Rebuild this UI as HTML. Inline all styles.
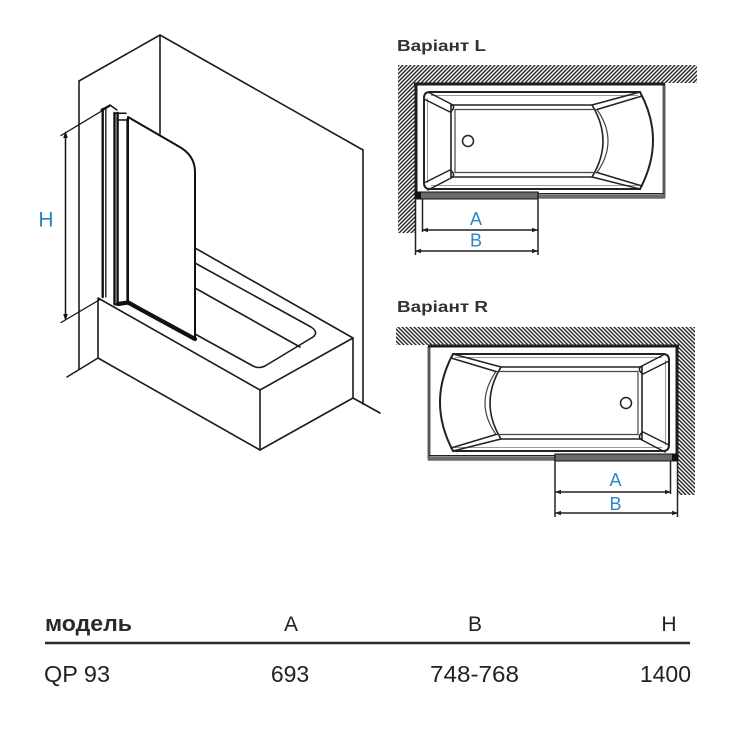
<!DOCTYPE html>
<html>
<head>
<meta charset="utf-8">
<style>
  html,body{margin:0;padding:0;background:#fff;}
  svg{display:block;}
  text{font-family:"Liberation Sans", Arial, sans-serif;}
</style>
</head>
<body>
<svg width="750" height="750" viewBox="0 0 750 750" xmlns="http://www.w3.org/2000/svg">
  <defs>
    <pattern id="hatch" patternUnits="userSpaceOnUse" width="4" height="4">
      <path d="M-1,1 L1,-1 M0,4 L4,0 M3,5 L5,3" stroke="#2a2a2a" stroke-width="1.45"/>
    </pattern>
  </defs>
  <rect x="0" y="0" width="750" height="750" fill="#fff"/>

  <!-- ===== 3D drawing ===== -->
  <g fill="none" stroke="#1c1c1c" stroke-width="1.6" stroke-linecap="round" stroke-linejoin="round">
    <path d="M79,81 L160,35 L363,150"/>
    <path d="M160,35 L160,134"/>
    <path d="M79,81 L79,369"/>
    <path d="M363,150 L363,404"/>
    <path d="M67,377 L98,358"/>
    <path d="M353,398 L380,413"/>
    <path d="M98,298 L260,390 L260,450 L98,358 Z"/>
    <path d="M260,390 L353,338 L353,398 L260,450"/>
    <path d="M353,338 L195,248"/>
    <path d="M195,263 L311,327 Q319,332 313,337 L265,366 Q259,369 253,366 L195,334"/>
    <path d="M195,288 L300,347"/>
  </g>

  <path d="M128,117 L178,146 Q195,155 195,172 L195,340 L128,301 Z" fill="#fff" stroke="#111" stroke-width="2" stroke-linejoin="round"/>

  <g fill="none" stroke="#111" stroke-linecap="round">
    <path d="M102.7,109 L102.7,297" stroke-width="2.4"/>
    <path d="M105.8,108 L105.8,297" stroke-width="1.3"/>
    <path d="M101,110 L110,105 L117,110" stroke-width="1.5"/>
    <path d="M114.5,113 L114.5,304" stroke-width="2.4"/>
    <path d="M117.6,113 L117.6,304" stroke-width="2.4"/>
    <path d="M127,119 L127,302" stroke-width="1.3"/>
    <path d="M115,113.3 L126,113.3" stroke-width="1.5"/>
    <path d="M117,120 L128,120" stroke-width="1.5"/>
    <path d="M114.5,304.5 L127,303.5" stroke-width="2"/>
    <path d="M118,304 L128,302.5 L195,339" stroke-width="4.2"/>
    <path d="M65.5,135 L65.5,317" stroke-width="1.5"/>
    <path d="M61,135.5 L110,106" stroke-width="1.3"/>
    <path d="M61,322.5 L100,299.5" stroke-width="1.3"/>
  </g>
  <polygon points="65.5,131 63.2,138 67.8,138" fill="#111"/>
  <polygon points="65.5,321 63.2,314 67.8,314" fill="#111"/>
  <text x="46" y="226.5" font-size="21" fill="#2b82c4" text-anchor="middle">H</text>

  <!-- ===== Variant L ===== -->
  <text x="397" y="51" font-size="16" font-weight="bold" fill="#333" textLength="89" lengthAdjust="spacingAndGlyphs">Варіант L</text>
  <g>
    <rect x="398" y="65" width="299" height="18" fill="url(#hatch)"/>
    <rect x="398" y="83" width="17" height="150" fill="url(#hatch)"/>
    <line x1="664" y1="84" x2="664" y2="198" stroke="#5a5a5a" stroke-width="3"/>
    <line x1="415" y1="196.5" x2="665" y2="196.5" stroke="#6a6a6a" stroke-width="4.5"/>
    <line x1="538" y1="193.5" x2="664" y2="193.5" stroke="#222" stroke-width="1"/>
    <line x1="414" y1="84" x2="665" y2="84" stroke="#1e1e1e" stroke-width="3"/>
    <line x1="416" y1="83" x2="416" y2="199" stroke="#1e1e1e" stroke-width="3"/>
    <path d="M430,92 L640,92 Q666,140 640,189 L430,189 Q424,189 424,183 L424,98 Q424,92 430,92 Z" fill="none" stroke="#222" stroke-width="2"/>
    <path d="M431,95.5 L638,95.5 M431,185.5 L638,185.5 M427.5,98 L427.5,183" fill="none" stroke="#9a9a9a" stroke-width="1"/>
    <path d="M451,105 L592,105 Q614,141 592,177 L451,177 Z" fill="none" stroke="#222" stroke-width="1.6"/>
    <path d="M455,109.5 L597,109.5 Q619,141 597,172.5 L455,172.5 Z" fill="none" stroke="#444" stroke-width="1.2"/>
    <g fill="none" stroke="#222" stroke-width="1.5" stroke-linejoin="round" stroke-linecap="round">
      <path d="M428,92 L453,105 Q455,109 450,112 L424,99"/>
      <path d="M428,190 L453,177 Q455,173 450,170 L424,183"/>
      <path d="M592,105 L640,92"/>
      <path d="M597,109.5 L642,96"/>
      <path d="M592,177 L640,189"/>
      <path d="M597,172.5 L642,186"/>
    </g>
    <circle cx="468" cy="141" r="5.5" fill="none" stroke="#222" stroke-width="1.5"/>
    <rect x="415" y="192" width="123" height="7" fill="#6a6a6a" stroke="#111" stroke-width="1"/>
    <rect x="415" y="192" width="6" height="7" fill="#111"/>
    <g stroke="#222" stroke-width="1.5" fill="none">
      <line x1="415.5" y1="199" x2="415.5" y2="255"/>
      <line x1="538" y1="192" x2="538" y2="255"/>
      <line x1="422.5" y1="199" x2="422.5" y2="232"/>
      <line x1="422" y1="230" x2="538" y2="230"/>
      <line x1="415" y1="251" x2="538" y2="251"/>
    </g>
    <g fill="#222">
      <polygon points="422,230 428,227.8 428,232.2"/>
      <polygon points="538,230 532,227.8 532,232.2"/>
      <polygon points="415,251 421,248.8 421,253.2"/>
      <polygon points="538,251 532,248.8 532,253.2"/>
    </g>
  </g>
  <text x="476" y="225" font-size="18" fill="#2b86c8" text-anchor="middle">A</text>
  <text x="476" y="246.5" font-size="18" fill="#2b86c8" text-anchor="middle">B</text>

  <!-- ===== Variant R (mirror) ===== -->
  <text x="397" y="312" font-size="16" font-weight="bold" fill="#333" textLength="91" lengthAdjust="spacingAndGlyphs">Варіант R</text>
  <g transform="translate(1093,262) scale(-1,1)">
    <rect x="398" y="65" width="299" height="18" fill="url(#hatch)"/>
    <rect x="398" y="83" width="17" height="150" fill="url(#hatch)"/>
    <line x1="664" y1="84" x2="664" y2="198" stroke="#5a5a5a" stroke-width="3"/>
    <line x1="415" y1="196.5" x2="665" y2="196.5" stroke="#6a6a6a" stroke-width="4.5"/>
    <line x1="538" y1="193.5" x2="664" y2="193.5" stroke="#222" stroke-width="1"/>
    <line x1="414" y1="84" x2="665" y2="84" stroke="#1e1e1e" stroke-width="3"/>
    <line x1="416" y1="83" x2="416" y2="199" stroke="#1e1e1e" stroke-width="3"/>
    <path d="M430,92 L640,92 Q666,140 640,189 L430,189 Q424,189 424,183 L424,98 Q424,92 430,92 Z" fill="none" stroke="#222" stroke-width="2"/>
    <path d="M431,95.5 L638,95.5 M431,185.5 L638,185.5 M427.5,98 L427.5,183" fill="none" stroke="#9a9a9a" stroke-width="1"/>
    <path d="M451,105 L592,105 Q614,141 592,177 L451,177 Z" fill="none" stroke="#222" stroke-width="1.6"/>
    <path d="M455,109.5 L597,109.5 Q619,141 597,172.5 L455,172.5 Z" fill="none" stroke="#444" stroke-width="1.2"/>
    <g fill="none" stroke="#222" stroke-width="1.5" stroke-linejoin="round" stroke-linecap="round">
      <path d="M428,92 L453,105 Q455,109 450,112 L424,99"/>
      <path d="M428,190 L453,177 Q455,173 450,170 L424,183"/>
      <path d="M592,105 L640,92"/>
      <path d="M597,109.5 L642,96"/>
      <path d="M592,177 L640,189"/>
      <path d="M597,172.5 L642,186"/>
    </g>
    <circle cx="467" cy="141" r="5.5" fill="none" stroke="#222" stroke-width="1.5"/>
    <rect x="415" y="192" width="123" height="7" fill="#6a6a6a" stroke="#111" stroke-width="1"/>
    <rect x="415" y="192" width="6" height="7" fill="#111"/>
    <g stroke="#222" stroke-width="1.5" fill="none">
      <line x1="415.5" y1="199" x2="415.5" y2="255"/>
      <line x1="538" y1="192" x2="538" y2="255"/>
      <line x1="422.5" y1="199" x2="422.5" y2="232"/>
      <line x1="422" y1="230" x2="538" y2="230"/>
      <line x1="415" y1="251" x2="538" y2="251"/>
    </g>
    <g fill="#222">
      <polygon points="422,230 428,227.8 428,232.2"/>
      <polygon points="538,230 532,227.8 532,232.2"/>
      <polygon points="415,251 421,248.8 421,253.2"/>
      <polygon points="538,251 532,248.8 532,253.2"/>
    </g>
  </g>
  <text x="615.5" y="486" font-size="18" fill="#2b86c8" text-anchor="middle">A</text>
  <text x="615.5" y="510" font-size="18" fill="#2b86c8" text-anchor="middle">B</text>

  <!-- ===== Table ===== -->
  <text x="45" y="631" font-size="22" font-weight="bold" fill="#2a2a2a" textLength="87" lengthAdjust="spacingAndGlyphs">модель</text>
  <text x="291" y="631" font-size="21" fill="#222" text-anchor="middle">A</text>
  <text x="475" y="631" font-size="21" fill="#222" text-anchor="middle">B</text>
  <text x="669" y="631" font-size="21" fill="#222" text-anchor="middle">H</text>
  <line x1="45" y1="643" x2="690" y2="643" stroke="#2a2a2a" stroke-width="2.5"/>
  <text x="44" y="682" font-size="23" fill="#222" textLength="66" lengthAdjust="spacingAndGlyphs">QP 93</text>
  <text x="290" y="682" font-size="23" fill="#222" text-anchor="middle">693</text>
  <text x="474.5" y="682" font-size="23" fill="#222" text-anchor="middle" textLength="89" lengthAdjust="spacingAndGlyphs">748-768</text>
  <text x="691" y="682" font-size="23" fill="#222" text-anchor="end">1400</text>
</svg>
</body>
</html>
